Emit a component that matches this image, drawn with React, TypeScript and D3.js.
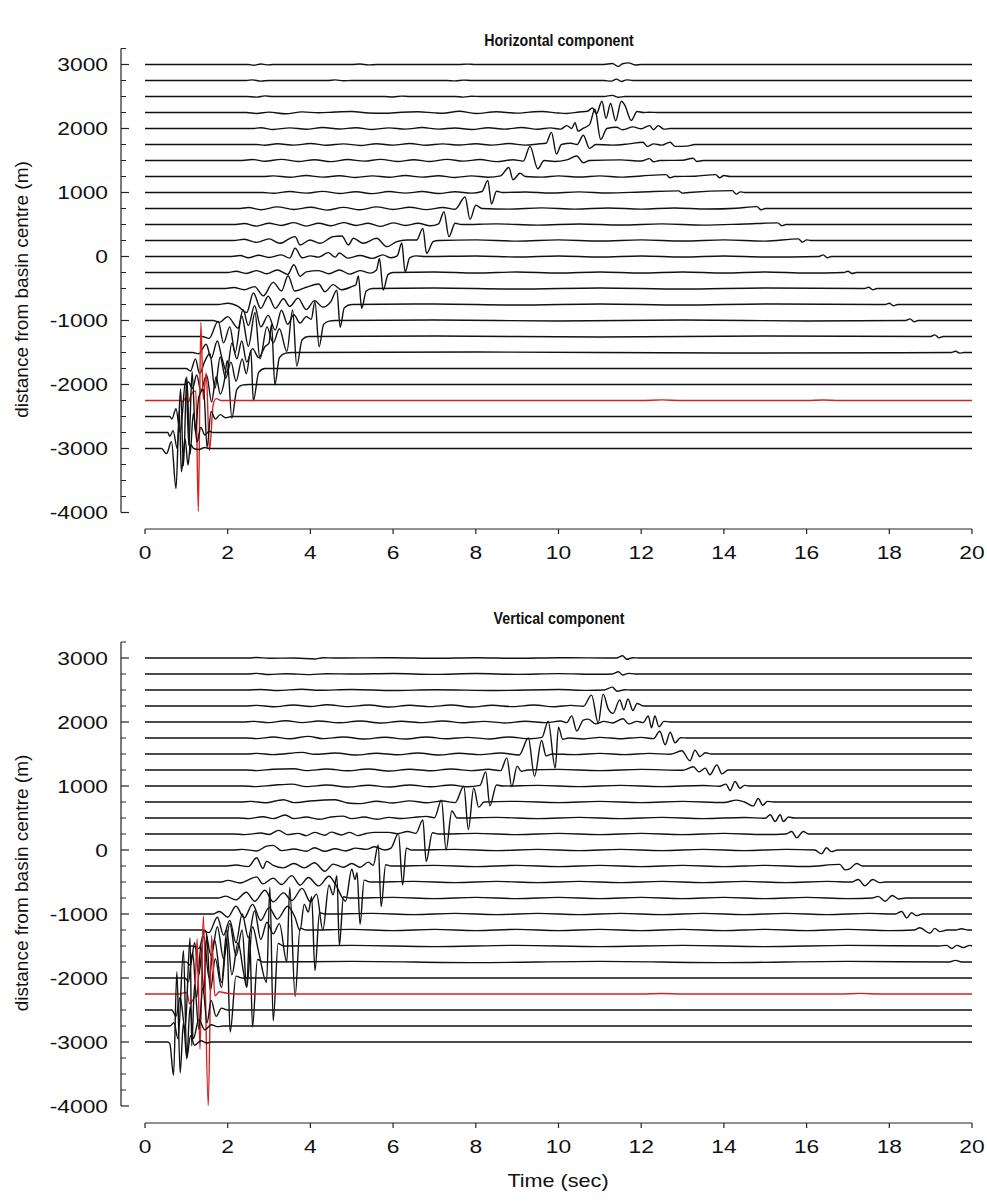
import React from 'react';
import * as d3 from 'd3';

// Receiver offsets (m from basin centre), top trace first
const OFFSETS = [3000, 2750, 2500, 2250, 2000, 1750, 1500, 1250, 1000, 750, 500, 250, 0,
  -250, -500, -750, -1000, -1250, -1500, -1750, -2000, -2250, -2500, -2750, -3000];
const HIGHLIGHT_OFFSET = -2250;

const X_TICKS = [0, 2, 4, 6, 8, 10, 12, 14, 16, 18, 20];
const Y_TICKS = [3000, 2000, 1000, 0, -1000, -2000, -3000, -4000];
const Y_DOMAIN = [-4000, 3250];

// Horizontal component traces: flat lists of (time s, deflection in axis units)
const H_P3000 = [0,0, 2.5,0, 2.62,-12, 2.8,8, 2.95,-6, 3.1,0, 5.0,0, 5.2,8, 5.4,-6, 5.6,0, 7.6,0, 7.8,6, 8.0,0, 11.1,0, 11.3,15, 11.45,-30, 11.55,12, 11.7,25, 11.85,-8, 12.0,0, 20,0];
const H_P2750 = [0,0, 2.45,0, 2.6,10, 2.8,-10, 3.0,0, 4.4,0, 4.6,10, 4.8,-5, 5.0,0, 7.3,0, 7.5,-6, 7.7,6, 7.9,0, 11.1,0, 11.28,-10, 11.4,22, 11.52,-15, 11.65,10, 11.8,0, 20,0];
const H_P2500 = [0,0, 2.45,0, 2.7,-10, 2.9,10, 3.1,0, 5.8,0, 6.0,-8, 6.2,6, 6.4,0, 7.5,0, 7.7,-10, 7.9,5, 8.1,0, 11.1,0, 11.3,18, 11.45,-12, 11.6,0, 20,0];
const H_P2250 = [0,0, 2.45,0, 2.7,-15, 3.0,6, 3.4,-20, 3.8,10, 4.2,-5, 4.6,8, 5.0,15, 5.4,-8, 5.8,-12, 6.2,5, 6.6,12, 7.0,-6, 7.2,-12, 7.6,20, 8.0,-15, 8.5,12, 9.0,-10, 9.3,6, 9.6,15, 10.0,-8, 10.2,-15, 10.5,8, 10.7,20, 10.82,70, 10.92,-20, 11.05,175, 11.15,-90, 11.26,140, 11.38,-130, 11.52,175, 11.6,120, 11.76,-125, 11.9,15, 12.05,0, 12.2,5, 12.4,0, 20,0];
const H_P2000 = [0,0, 2.6,0, 2.8,12, 3.1,-15, 3.5,10, 3.9,-12, 4.3,15, 4.7,-8, 5.1,12, 5.5,-15, 5.9,10, 6.3,-10, 6.7,15, 7.1,-10, 7.5,8, 7.9,-15, 8.3,12, 8.7,-10, 9.1,15, 9.5,-12, 9.8,10, 10.05,-10, 10.2,45, 10.32,0, 10.4,90, 10.47,-40, 10.6,5, 10.75,60, 10.88,300, 11.02,-170, 11.17,0, 11.4,20, 11.55,-20, 11.8,25, 12.0,-5, 12.2,45, 12.3,-20, 12.41,45, 12.55,-10, 12.7,0, 20,0];
const H_P1750 = [0,0, 2.7,0, 2.9,-12, 3.2,12, 3.6,-10, 4.0,15, 4.4,-12, 4.8,10, 5.2,-15, 5.6,12, 6.0,-10, 6.4,15, 6.8,-12, 7.2,10, 7.6,-8, 8.0,12, 8.4,-10, 8.8,15, 9.2,-10, 9.5,8, 9.7,20, 9.83,190, 9.95,-150, 10.07,0, 10.3,20, 10.45,0, 10.6,145, 10.75,-60, 10.9,0, 11.3,-10, 11.7,10, 12.04,35, 12.15,-30, 12.3,10, 12.5,-10, 12.7,35, 12.82,-30, 13.1,-25, 13.3,0, 20,0];
const H_P1500 = [0,0, 2.35,0, 2.6,15, 2.9,-12, 3.3,18, 3.7,-15, 4.1,12, 4.5,-18, 4.9,15, 5.3,-10, 5.7,18, 6.1,-15, 6.5,12, 6.9,-15, 7.3,18, 7.7,-10, 8.1,15, 8.5,-18, 8.9,12, 9.15,-10, 9.31,220, 9.5,-130, 9.65,0, 9.9,-15, 10.2,10, 10.44,70, 10.6,-35, 10.75,0, 11.5,10, 12.0,-8, 12.2,30, 12.3,-20, 12.45,0, 13.0,5, 13.25,35, 13.35,-15, 13.5,0, 20,0];
const H_P1250 = [0,0, 2.85,0, 3.1,10, 3.5,-12, 3.9,15, 4.3,-10, 4.7,12, 5.1,-15, 5.5,10, 5.9,-12, 6.3,15, 6.7,-10, 7.1,12, 7.5,-15, 7.9,10, 8.3,-12, 8.6,10, 8.8,140, 8.9,-50, 9.07,50, 9.2,0, 9.6,-10, 10.0,10, 10.5,-8, 11.0,10, 11.5,-10, 12.0,8, 12.6,30, 12.7,-20, 12.8,0, 13.3,5, 13.8,30, 13.9,-20, 14.0,15, 14.15,0, 20,0];
const H_P1000 = [0,0, 2.85,0, 3.1,-12, 3.5,15, 3.9,-10, 4.3,18, 4.7,-15, 5.1,12, 5.5,-18, 5.9,15, 6.3,-10, 6.7,15, 7.1,-15, 7.5,12, 7.9,-10, 8.15,15, 8.29,190, 8.38,-180, 8.5,20, 8.65,0, 9.2,8, 9.8,-8, 10.5,10, 11.2,-8, 12.0,8, 12.9,25, 13.0,-10, 13.15,0, 14.2,30, 14.3,-25, 14.4,10, 14.5,0, 20,0];
const H_P750 = [0,0, 2.3,0, 2.5,15, 2.8,-20, 3.2,25, 3.6,-15, 4.0,20, 4.4,-25, 4.8,18, 5.2,-20, 5.6,25, 6.0,-15, 6.4,20, 6.8,-18, 7.2,15, 7.5,-12, 7.74,180, 7.86,-170, 8.0,50, 8.15,0, 8.8,-10, 9.6,10, 10.4,-10, 11.2,8, 12.0,-10, 12.8,8, 13.6,-8, 14.3,5, 14.8,30, 14.9,-20, 15.0,0, 20,0];
const H_P500 = [0,0, 2.2,0, 2.4,15, 2.7,-25, 3.0,20, 3.3,-15, 3.6,30, 3.9,-25, 4.2,20, 4.5,-20, 4.8,30, 5.1,-15, 5.4,20, 5.7,-30, 6.0,25, 6.3,-15, 6.6,20, 6.9,-20, 7.1,10, 7.23,200, 7.35,-190, 7.5,20, 7.65,0, 8.5,10, 9.5,-10, 10.5,8, 11.5,-8, 12.5,10, 13.5,-10, 14.5,8, 15.3,25, 15.4,-20, 15.5,0, 20,0];
const H_P250 = [0,0, 2.15,0, 2.4,20, 2.7,-30, 3.0,25, 3.26,-44, 3.51,34, 3.63,60, 3.75,-70, 3.99,8, 4.23,-44, 4.55,60, 4.76,70, 4.92,-70, 5.04,34, 5.28,-44, 5.6,34, 5.85,-96, 6.09,-18, 6.33,8, 6.57,8, 6.72,190, 6.81,-200, 6.97,-18, 7.1,0, 8.0,10, 9.0,-10, 10.0,10, 11.0,-8, 12.0,10, 13.0,-8, 14.0,10, 15.0,-10, 15.8,25, 15.9,-25, 16.0,10, 16.1,0, 20,0];
const H_P0 = [0,0, 2.1,0, 2.3,15, 2.5,-20, 2.75,20, 3.0,-15, 3.3,25, 3.5,-25, 3.63,130, 3.8,-20, 4.0,10, 4.2,-10, 4.43,60, 4.6,-10, 4.7,55, 4.9,-25, 5.2,15, 5.5,-30, 5.75,25, 5.95,-20, 6.1,10, 6.21,210, 6.29,-240, 6.4,-20, 6.55,10, 6.8,0, 8,8, 9,-8, 10,8, 11,-8, 12,8, 13,-8, 14,8, 15,-8, 16.3,0, 16.4,25, 16.5,-20, 16.6,0, 20,0];
const H_M250 = [0,0, 2.0,0, 2.2,20, 2.45,-15, 2.7,30, 2.94,-20, 3.2,40, 3.45,-30, 3.6,120, 3.75,-60, 3.9,10, 4.2,30, 4.45,-20, 4.7,40, 4.95,-25, 5.2,30, 5.45,-10, 5.6,40, 5.67,220, 5.76,-275, 5.88,-30, 6.0,0, 7,8, 8,-8, 9,8, 10,-8, 11,8, 12,-8, 13,8, 14,-8, 15,8, 16,-8, 16.9,0, 17.0,20, 17.1,-15, 17.2,0, 20,0];
const H_M500 = [0,0, 1.95,0, 2.15,15, 2.4,-20, 2.65,30, 2.86,-115, 3.1,95, 3.3,-40, 3.46,200, 3.62,-40, 3.9,20, 4.2,70, 4.35,-50, 4.55,60, 4.75,-20, 5.0,30, 5.1,60, 5.16,195, 5.24,-310, 5.35,-40, 5.5,0, 7,8, 9,-8, 11,8, 13,-8, 15,8, 17.4,0, 17.5,20, 17.6,-20, 17.7,0, 20,0];
const H_M750 = [0,0, 1.77,0, 2.0,20, 2.25,-30, 2.46,-125, 2.62,180, 2.8,-60, 2.98,130, 3.15,-60, 3.35,90, 3.5,-30, 3.7,100, 3.9,-80, 4.1,60, 4.3,-40, 4.5,50, 4.64,225, 4.72,-355, 4.82,-50, 5.0,0, 7,8, 9,-8, 11,8, 13,-8, 15,8, 17.9,0, 18.0,20, 18.1,-20, 18.2,0, 20,0];
const H_M1000 = [0,0, 1.65,0, 1.8,-30, 2.0,60, 2.25,-120, 2.37,170, 2.5,-80, 2.65,230, 2.8,-100, 2.98,80, 3.15,-150, 3.3,160, 3.45,-60, 3.6,90, 3.75,-40, 3.9,60, 4.02,20, 4.11,295, 4.21,-410, 4.32,-60, 4.45,-10, 4.6,0, 7,8, 10,-8, 13,8, 16,-8, 18.4,0, 18.5,25, 18.6,-20, 18.7,0, 20,0];
const H_M1250 = [0,0, 1.38,0, 1.55,-30, 1.77,240, 1.9,-100, 2.05,150, 2.18,-250, 2.34,320, 2.5,-150, 2.66,375, 2.78,-350, 2.95,150, 3.1,-100, 3.25,120, 3.43,-235, 3.57,415, 3.67,-460, 3.8,-50, 3.95,0, 7,8, 11,-8, 15,8, 19.0,0, 19.1,25, 19.2,-20, 19.3,0, 20,0];
const H_M1500 = [0,0, 1.15,0, 1.3,-20, 1.48,130, 1.6,-90, 1.75,180, 1.85,-60, 1.98,-310, 2.1,150, 2.22,-100, 2.34,180, 2.46,-150, 2.6,60, 2.75,-80, 2.9,90, 3.0,150, 3.06,440, 3.14,-505, 3.25,-80, 3.4,-10, 3.55,0, 8,8, 14,-8, 19.5,0, 19.6,20, 19.7,-10, 19.8,0, 20,0];
const H_M1750 = [0,0, 1.0,0, 1.1,-40, 1.22,150, 1.32,-80, 1.45,120, 1.57,235, 1.69,-310, 1.82,180, 1.95,-150, 2.08,100, 2.2,-200, 2.35,150, 2.45,-80, 2.56,280, 2.62,-505, 2.75,-60, 2.9,0, 20,0];
const H_M2000 = [0,0, 0.97,0, 1.05,40, 1.15,-60, 1.25,150, 1.35,-100, 1.49,150, 1.61,-275, 1.72,120, 1.82,-150, 1.92,60, 1.99,375, 2.1,-525, 2.22,-80, 2.35,-10, 2.5,0, 20,0];
const H_M2250 = [0,0, 0.88,0, 0.92,-20, 0.98,40, 1.05,-30, 1.12,100, 1.23,150, 1.29,-1730, 1.35,1220, 1.41,20, 1.48,430, 1.56,-780, 1.65,-60, 1.72,30, 1.85,0, 12,0, 12.5,10, 13,0, 16,0, 16.4,8, 16.8,0, 20,0];
const H_M2500 = [0,0, 0.6,0, 0.65,-40, 0.75,120, 0.85,-250, 0.99,600, 1.06,-450, 1.14,700, 1.22,-250, 1.3,300, 1.42,420, 1.5,-480, 1.6,80, 1.7,-40, 1.82,30, 1.95,-20, 2.1,0, 20,0];
const H_M2750 = [0,0, 0.55,0, 0.6,-60, 0.68,30, 0.78,-250, 0.86,680, 0.93,-520, 1.01,870, 1.09,-340, 1.17,300, 1.26,-150, 1.35,80, 1.45,-40, 1.55,20, 1.65,0, 20,0];
const H_M3000 = [0,0, 0.4,0, 0.52,-80, 0.64,105, 0.75,-625, 0.83,590, 0.88,-365, 0.97,150, 1.04,-260, 1.1,60, 1.18,0, 1.3,-15, 1.45,15, 1.55,0, 20,0];

// Vertical component traces
const V_P3000 = [0,0, 2.5,0, 2.7,8, 3.0,-5, 3.6,0, 4.1,-15, 4.3,5, 4.6,0, 6,5, 7,-5, 8,5, 9,-5, 10,4, 11.4,0, 11.55,35, 11.65,-20, 11.8,5, 11.95,0, 20,0];
const V_P2750 = [0,0, 2.45,0, 2.7,10, 3.0,-8, 3.4,5, 4.0,-10, 4.4,5, 5.0,0, 6.0,8, 7.0,-6, 8.0,8, 9.0,-6, 10.0,6, 11.0,-5, 11.3,0, 11.45,35, 11.55,-15, 11.7,10, 11.85,0, 20,0];
const V_P2500 = [0,0, 2.45,0, 2.8,8, 3.2,-8, 3.8,12, 4.2,-5, 5.0,8, 6.0,-8, 7.0,5, 8.5,-8, 10.0,8, 10.7,-6, 11.1,0, 11.3,45, 11.42,-20, 11.6,5, 11.75,0, 20,0];
const V_P2250 = [0,0, 2.4,0, 2.7,10, 3.1,-12, 3.6,15, 4.0,-8, 4.4,20, 4.9,-10, 5.4,15, 5.9,-15, 6.4,12, 6.9,-10, 7.4,15, 7.9,-15, 8.4,12, 8.9,-10, 9.4,15, 9.9,-12, 10.3,10, 10.6,-5, 10.8,170, 10.96,-270, 11.08,185, 11.2,-40, 11.32,-115, 11.48,95, 11.58,-60, 11.68,110, 11.8,-70, 11.9,40, 12.05,0, 20,0];
const V_P2000 = [0,0, 2.37,0, 2.6,10, 3.0,-10, 3.4,20, 3.8,-10, 4.2,15, 4.7,-12, 5.2,15, 5.7,-15, 6.2,12, 6.7,-10, 7.2,15, 7.7,-12, 8.2,10, 8.7,-15, 9.2,12, 9.7,-10, 10.05,15, 10.2,-10, 10.32,95, 10.44,-140, 10.6,30, 10.72,45, 10.9,-30, 11.1,10, 11.3,-15, 11.56,50, 11.7,-30, 11.9,10, 12.05,-10, 12.17,95, 12.25,-90, 12.33,95, 12.43,-75, 12.55,10, 12.7,0, 20,0];
const V_P1750 = [0,0, 2.45,0, 2.7,-10, 3.1,15, 3.5,-12, 3.95,26, 4.3,-10, 4.8,15, 5.3,-15, 5.8,12, 6.3,-15, 6.8,15, 7.3,-12, 7.8,10, 8.3,-15, 8.8,15, 9.3,-12, 9.6,10, 9.75,260, 9.92,-470, 10.0,170, 10.1,-20, 10.25,0, 10.6,-15, 11.0,10, 11.5,-12, 12.0,10, 12.3,-10, 12.45,105, 12.58,-105, 12.7,90, 12.82,-75, 12.95,5, 13.1,0, 20,0];
const V_P1500 = [0,0, 2.45,0, 2.7,10, 3.1,-10, 3.8,25, 4.1,-5, 4.6,15, 5.1,-15, 5.6,12, 6.1,-12, 6.6,15, 7.1,-15, 7.6,12, 8.1,-10, 8.6,15, 9.05,-15, 9.27,250, 9.42,-350, 9.59,210, 9.7,-30, 9.85,0, 10.4,-10, 11,10, 11.6,-10, 12.2,10, 12.7,-5, 12.98,50, 13.18,-105, 13.3,60, 13.42,-40, 13.55,20, 13.7,0, 20,0];
const V_P1250 = [0,0, 2.45,0, 2.7,-10, 3.1,12, 3.6,20, 3.9,-10, 4.4,15, 4.9,-12, 5.4,15, 5.9,-15, 6.4,12, 6.9,-12, 7.4,15, 7.9,-10, 8.3,12, 8.6,-10, 8.75,190, 8.87,-260, 9.0,60, 9.1,-20, 9.25,0, 10,10, 11,-10, 12,10, 13.0,-5, 13.26,50, 13.4,-30, 13.55,30, 13.66,-75, 13.83,80, 13.95,-60, 14.1,0, 20,0];
const V_P1000 = [0,0, 2.4,0, 2.65,-10, 3.1,12, 3.55,30, 3.9,-10, 4.4,15, 4.9,-15, 5.4,12, 5.9,-15, 6.4,15, 6.9,-12, 7.4,15, 7.8,-12, 8.1,10, 8.24,220, 8.34,-310, 8.5,15, 8.65,0, 9.5,10, 10.5,-10, 11.5,10, 12.5,-10, 13.5,8, 13.9,-5, 14.05,30, 14.15,-70, 14.27,70, 14.39,-35, 14.5,10, 14.6,0, 20,0];
const V_P750 = [0,0, 2.3,0, 2.55,10, 2.9,-12, 3.35,36, 3.6,-10, 4.0,15, 4.6,34, 4.9,-15, 5.2,-25, 5.6,12, 6.0,-15, 6.4,18, 6.8,-12, 7.2,15, 7.5,-10, 7.71,245, 7.82,-430, 7.95,220, 8.07,-80, 8.2,0, 9,10, 10,-10, 11,10, 12,-10, 13,10, 14,-8, 14.31,30, 14.5,0, 14.71,-65, 14.83,55, 14.94,-50, 15.05,10, 15.2,0, 20,0];
const V_P500 = [0,0, 2.26,0, 2.5,-10, 2.85,20, 3.1,-10, 3.39,47, 3.6,-10, 3.9,15, 4.2,-20, 4.5,15, 4.78,30, 5.0,-10, 5.3,15, 5.6,-20, 5.9,10, 6.2,-8, 6.5,10, 6.8,25, 7.0,5, 7.17,280, 7.28,-500, 7.42,110, 7.55,0, 8.5,10, 9.5,-10, 10.5,10, 11.5,-10, 12.5,10, 13.5,-10, 14.5,8, 15.0,-5, 15.12,50, 15.24,-55, 15.36,50, 15.44,-55, 15.56,15, 15.7,0, 20,0];
const V_P250 = [0,0, 2.14,0, 2.4,-10, 2.8,15, 3.0,-8, 3.23,57, 3.45,-10, 3.7,10, 3.9,-25, 4.1,25, 4.35,-20, 4.5,30, 4.75,-15, 4.95,25, 5.15,-25, 5.35,8, 5.55,25, 5.9,25, 6.1,5, 6.35,40, 6.55,10, 6.72,220, 6.8,-430, 6.95,20, 7.1,0, 8,10, 9,-10, 10,10, 11,-10, 12,10, 13,-10, 14,10, 15,-8, 15.5,0, 15.64,40, 15.76,-60, 15.92,40, 16.05,0, 20,0];
const V_P0 = [0,0, 2.1,0, 2.35,10, 2.7,-15, 2.94,60, 3.1,73, 3.3,-10, 3.6,15, 3.9,-20, 4.1,35, 4.35,-20, 4.6,20, 4.85,-15, 5.1,30, 5.35,10, 5.55,50, 5.8,0, 5.95,30, 6.13,260, 6.23,-545, 6.32,30, 6.45,0, 7.5,10, 8.5,-10, 9.5,10, 10.5,-10, 11.5,10, 12.5,-10, 13.5,10, 14.5,-10, 15.5,10, 16.2,0, 16.36,-60, 16.48,35, 16.6,-25, 16.75,0, 20,0];
const V_M250 = [0,0, 1.98,0, 2.2,15, 2.5,-10, 2.7,130, 2.85,-40, 2.94,73, 3.1,10, 3.35,-30, 3.6,40, 3.85,-30, 4.1,50, 4.35,-83, 4.55,30, 4.8,-20, 5.0,40, 5.2,-20, 5.4,60, 5.52,10, 5.64,330, 5.71,-635, 5.82,20, 5.95,0, 7,10, 8,-10, 9,10, 10,-10, 11,10, 12,-10, 13,10, 14,-10, 15,10, 16,-8, 16.8,25, 16.93,-60, 17.05,-40, 17.21,40, 17.35,0, 20,0];
const V_M500 = [0,0, 1.85,0, 2.0,25, 2.3,-15, 2.7,80, 2.85,-30, 3.1,60, 3.3,-40, 3.55,100, 3.75,-50, 3.95,70, 4.2,-60, 4.45,90, 4.6,-30, 4.85,-300, 5.0,200, 5.08,40, 5.13,145, 5.2,-660, 5.3,30, 5.45,0, 6.5,10, 7.5,-10, 8.5,10, 9.5,-10, 10.5,10, 11.5,-10, 12.5,10, 13.5,-10, 14.5,10, 15.5,-10, 16.5,10, 17.1,0, 17.25,40, 17.41,-60, 17.6,40, 17.76,-10, 17.9,0, 20,0];
const V_M750 = [0,0, 1.77,0, 1.95,30, 2.2,-30, 2.45,90, 2.65,-50, 2.9,120, 3.1,-60, 3.35,80, 3.55,-40, 3.8,150, 4.0,-60, 4.15,60, 4.3,-500, 4.45,200, 4.55,50, 4.64,350, 4.7,-745, 4.8,20, 4.95,0, 6,10, 7,-10, 8,10, 9,-10, 10,10, 11,-10, 12,10, 13,-10, 14,10, 15,-10, 16,10, 17,-10, 17.6,0, 17.73,25, 17.9,-50, 18.07,40, 18.23,-15, 18.4,0, 20,0];
const V_M1000 = [0,0, 1.65,0, 1.8,40, 2.0,-50, 2.2,120, 2.4,-60, 2.6,150, 2.8,-100, 3.0,100, 3.2,-80, 3.45,120, 3.62,-40, 3.75,-260, 3.85,150, 3.95,30, 4.03,270, 4.11,-885, 4.22,20, 4.35,0, 5.5,10, 6.5,-10, 7.5,10, 8.5,-10, 9.5,10, 10.5,-10, 11.5,10, 12.5,-10, 13.5,10, 14.5,-10, 15.5,10, 16.5,-10, 17.5,10, 18.15,0, 18.3,40, 18.42,-60, 18.54,20, 18.66,-25, 18.8,0, 20,0];
const V_M1250 = [0,0, 1.38,0, 1.55,-40, 1.75,200, 1.9,-80, 2.05,150, 2.2,-200, 2.35,250, 2.5,-120, 2.65,300, 2.8,-150, 2.95,120, 3.1,-60, 3.25,100, 3.43,-500, 3.5,665, 3.63,-1040, 3.75,30, 3.9,0, 5,10, 6,-10, 7,10, 8,-10, 9,10, 10,-10, 11,10, 12,-10, 13,10, 14,-10, 15,10, 16,-10, 17,10, 18,-10, 18.6,0, 18.74,35, 18.98,-50, 19.1,25, 19.22,-25, 19.4,0, 19.6,0, 19.75,20, 19.9,0, 20,0];
const V_M1500 = [0,0, 1.15,0, 1.3,-40, 1.45,250, 1.6,-150, 1.75,300, 1.9,-200, 2.05,350, 2.2,-150, 2.35,250, 2.46,-645, 2.6,300, 2.75,-100, 2.94,-570, 3.02,920, 3.1,-1170, 3.22,40, 3.35,0, 5,10, 7,-10, 9,10, 11,-10, 13,10, 15,-10, 17,10, 19.2,0, 19.39,10, 19.51,-40, 19.63,10, 19.79,-25, 19.95,10, 20,0];
const V_M1750 = [0,0, 1.0,0, 1.1,-50, 1.2,300, 1.3,-200, 1.42,400, 1.55,-250, 1.68,350, 1.85,-320, 1.98,500, 2.1,-200, 2.25,300, 2.38,-150, 2.46,-395, 2.53,450, 2.6,-1015, 2.72,40, 2.85,0, 5,10, 8,-10, 11,10, 14,-10, 17,10, 19.45,0, 19.6,25, 19.75,0, 20,0];
const V_M2000 = [0,0, 0.97,0, 1.05,-60, 1.15,400, 1.25,-300, 1.35,500, 1.42,-250, 1.49,665, 1.58,-200, 1.7,300, 1.85,-150, 1.98,610, 2.06,-845, 2.2,30, 2.35,0, 20,0];
const V_M2250 = [0,0, 0.85,0, 0.9,10, 0.97,25, 1.02,5, 1.08,-155, 1.15,-100, 1.2,-40, 1.26,860, 1.33,-860, 1.41,1220, 1.53,-1745, 1.61,910, 1.69,-30, 1.8,35, 1.95,15, 2.2,0, 12,0, 12.5,8, 13,0, 16.8,0, 17.3,10, 17.8,0, 20,0];
const V_M2500 = [0,0, 0.65,0, 0.75,-100, 0.85,200, 0.97,-300, 1.09,1130, 1.13,-560, 1.2,400, 1.3,-300, 1.4,350, 1.5,-200, 1.6,150, 1.72,-100, 1.85,30, 2.0,0, 20,0];
const V_M2750 = [0,0, 0.6,0, 0.7,50, 0.8,-200, 0.93,1180, 1.01,-510, 1.09,300, 1.17,-200, 1.3,100, 1.45,-60, 1.6,20, 1.75,-10, 1.9,0, 20,0];
const V_M3000 = [0,0, 0.55,0, 0.6,-25, 0.69,-520, 0.77,1100, 0.85,-480, 0.93,300, 1.01,-250, 1.1,100, 1.2,-50, 1.35,20, 1.5,-15, 1.6,0, 20,0];

const HORIZONTAL = [H_P3000, H_P2750, H_P2500, H_P2250, H_P2000, H_P1750, H_P1500, H_P1250, H_P1000,
  H_P750, H_P500, H_P250, H_P0, H_M250, H_M500, H_M750, H_M1000, H_M1250, H_M1500, H_M1750,
  H_M2000, H_M2250, H_M2500, H_M2750, H_M3000];
const VERTICAL = [V_P3000, V_P2750, V_P2500, V_P2250, V_P2000, V_P1750, V_P1500, V_P1250, V_P1000,
  V_P750, V_P500, V_P250, V_P0, V_M250, V_M500, V_M750, V_M1000, V_M1250, V_M1500, V_M1750,
  V_M2000, V_M2250, V_M2500, V_M2750, V_M3000];

const WIDTH = 987;
const HEIGHT = 1201;
const FONT = "'Liberation Sans', Arial, sans-serif";
const STRETCH = 1.2; // glyphs are drawn slightly wide

const xScale = d3.scaleLinear().domain([0, 20]).range([145, 972]);

function toPairs(flat: number[]): [number, number][] {
  const out: [number, number][] = [];
  for (let i = 0; i < flat.length; i += 2) out.push([flat[i], flat[i + 1]]);
  return out;
}

function WideText({ x, y, size, anchor, weight, stretch, children }: any) {
  const s = stretch ?? STRETCH;
  return (
    <text transform={`translate(${x},${y}) scale(${s},1)`} fontSize={size}
      textAnchor={anchor} fontWeight={weight || 'normal'} fontFamily={FONT} fill="#111">
      {children}
    </text>
  );
}

function Panel({ title, traces, zeroY, xAxisY, titleY }: any) {
  // 64 px per 1000 m, zero line at zeroY
  const y = d3.scaleLinear().domain(Y_DOMAIN)
    .range([zeroY - Y_DOMAIN[0] * 0.064, zeroY - Y_DOMAIN[1] * 0.064]);
  const axisX = 121;
  const minor = d3.range(Y_DOMAIN[0], Y_DOMAIN[1] + 1, 250).filter((v) => v % 1000 !== 0);
  const midY = (y(Y_DOMAIN[0]) + y(Y_DOMAIN[1])) / 2 + 9;

  return (
    <g>
      <WideText x={559} y={titleY} size={16.5} anchor="middle" weight="bold" stretch={0.86}>{title}</WideText>
      {traces.map((flat: number[], i: number) => {
        const off = OFFSETS[i];
        const line = d3.line<[number, number]>()
          .x((d) => xScale(d[0]))
          .y((d) => y(off + d[1]))
          .curve(d3.curveMonotoneX);
        const red = off === HIGHLIGHT_OFFSET;
        return (
          <path key={off} d={line(toPairs(flat)) || ''} fill="none"
            stroke={red ? '#d42020' : '#111'} strokeWidth={1.4} strokeLinejoin="round" />
        );
      })}
      {/* y axis */}
      <line x1={axisX} x2={axisX} y1={y(Y_DOMAIN[0])} y2={y(Y_DOMAIN[1])} stroke="#222" strokeWidth={1.2} />
      {Y_TICKS.map((v) => (
        <g key={v}>
          <line x1={axisX} x2={axisX + 8} y1={y(v)} y2={y(v)} stroke="#222" strokeWidth={1.2} />
          <WideText x={108} y={y(v) + 6.8} size={19} anchor="end">{v}</WideText>
        </g>
      ))}
      {minor.map((v) => (
        <line key={v} x1={axisX} x2={axisX + 5} y1={y(v)} y2={y(v)} stroke="#222" strokeWidth={1} />
      ))}
      <text transform={`translate(28,${midY}) rotate(-90)`} textAnchor="middle"
        fontSize={19} fontFamily={FONT} fill="#111">distance from basin centre (m)</text>
      {/* x axis */}
      <line x1={xScale(0)} x2={xScale(20)} y1={xAxisY} y2={xAxisY} stroke="#222" strokeWidth={1.2} />
      {X_TICKS.map((t) => (
        <g key={t}>
          <line x1={xScale(t)} x2={xScale(t)} y1={xAxisY} y2={xAxisY + 5} stroke="#222" strokeWidth={1.2} />
          <WideText x={xScale(t)} y={xAxisY + 30} size={19} anchor="middle">{t}</WideText>
        </g>
      ))}
    </g>
  );
}

export default function App() {
  return (
    <svg width={WIDTH} height={HEIGHT}
      style={{ display: 'block', position: 'absolute', left: 0, top: 0, background: '#fff' }}>
      <rect width={WIDTH} height={HEIGHT} fill="#fff" />
      <Panel title="Horizontal component" traces={HORIZONTAL} zeroY={256.5} xAxisY={529} titleY={46} />
      <Panel title="Vertical component" traces={VERTICAL} zeroY={850} xAxisY={1123} titleY={624} />
      <WideText x={558} y={1187} size={18} anchor="middle">Time (sec)</WideText>
    </svg>
  );
}
